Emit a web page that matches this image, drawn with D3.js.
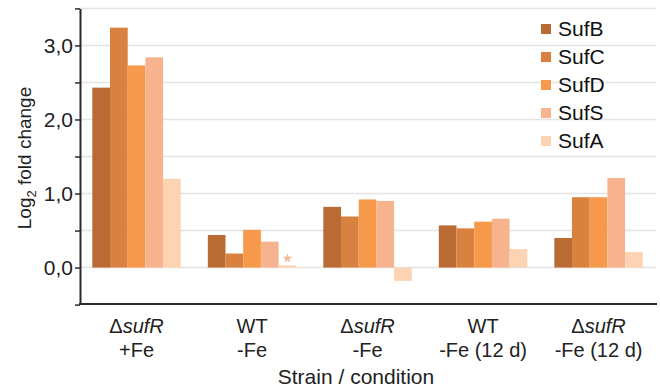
<!DOCTYPE html>
<html>
<head>
<meta charset="utf-8">
<script src="https://cdn.jsdelivr.net/npm/d3@7"></script>
<style>
  body { margin: 0; background: #fff; }
  svg { font-family: "Liberation Sans", Arial, sans-serif; }
</style>
</head>
<body>
<div id="chart"></div>
<script>
// data
const conditions = ["dsufR_Fe", "WT_noFe", "dsufR_noFe", "WT_noFe12", "dsufR_noFe12"];
const genes = ["SufB", "SufC", "SufD", "SufS", "SufA"];
const sufB = [2.43, 0.44, 0.82, 0.57, 0.40];
const sufC = [3.24, 0.19, 0.69, 0.53, 0.95];
const sufD = [2.73, 0.51, 0.92, 0.62, 0.95];
const sufS = [2.84, 0.35, 0.90, 0.66, 1.21];
const sufA = [1.20, 0.03, -0.18, 0.25, 0.21];
const yTicks = [-0.5, 0, 0.5, 1, 1.5, 2, 2.5, 3, 3.5];
const labelLine1 = [
    { mutant: true, text: "sufR" },
    { mutant: false, text: "WT" },
    { mutant: true, text: "sufR" },
    { mutant: false, text: "WT" },
    { mutant: true, text: "sufR" }
];
const labelLine2 = ["+Fe", "-Fe", "-Fe", "-Fe (12 d)", "-Fe (12 d)"];
const colors = ["#b96b33", "#d9823f", "#f6994a", "#f7b28e", "#fcd4b3"];

const series = [sufB, sufC, sufD, sufS, sufA];

const width = 660, height = 388;
const svg = d3.select("#chart").append("svg")
    .attr("width", width)
    .attr("height", height);

// Scales
const x = d3.scaleBand()
    .domain(conditions)
    .range([78.8, 656.3])
    .paddingInner(0.234)
    .paddingOuter(0.117);

const xInner = d3.scaleBand()
    .domain(genes)
    .range([0, x.bandwidth()]);

const y = d3.scaleLinear()
    .domain([-0.5, 3.5])
    .range([304.6, 8.4]);

const color = d3.scaleOrdinal().domain(genes).range(colors);

// gridlines
svg.append("g")
    .selectAll("line")
    .data(yTicks.filter(t => t > -0.5))
    .enter()
    .append("line")
    .attr("x1", 80)
    .attr("x2", 656)
    .attr("y1", d => y(d))
    .attr("y2", d => y(d))
    .attr("stroke", "#e4e4e4")
    .attr("stroke-width", 1.5);

// bars
genes.forEach((g, i) => {
    svg.append("g")
        .selectAll("rect")
        .data(series[i])
        .enter()
        .append("rect")
        .attr("x", (d, j) => x(conditions[j]) + xInner(g))
        .attr("y", d => y(Math.max(0, d)))
        .attr("width", xInner.bandwidth())
        .attr("height", d => Math.abs(y(d) - y(0)))
        .attr("fill", color(g));
});

// star over WT -Fe SufA
const starIdx = 1;
svg.append("path")
    .attr("d", d3.symbol().type(d3.symbolStar).size(30)())
    .attr("transform", `translate(${x(conditions[starIdx]) + xInner("SufA") + xInner.bandwidth() / 2},${y(sufA[starIdx]) - 7})`)
    .attr("fill", "#f6b995");

// y axis
const yAxis = d3.axisLeft(y)
    .tickValues(yTicks)
    .tickSize(5)
    .tickSizeOuter(0)
    .tickFormat(d => Number.isInteger(d) && d >= 0 ? d3.format(".1f")(d).replace(".", ",") : "");

const yg = svg.append("g")
    .attr("transform", "translate(80,0)")
    .call(yAxis);
yg.select(".domain").attr("stroke", "#2a2a2a").attr("stroke-width", 2);
yg.selectAll(".tick line").attr("stroke", "#2a2a2a").attr("stroke-width", 1.5);
yg.selectAll(".tick text")
    .attr("font-size", 21)
    .attr("fill", "#222")
    .attr("x", -7)
    .attr("font-family", "Liberation Sans, Arial, sans-serif");

// x axis line
svg.append("line")
    .attr("x1", 79)
    .attr("x2", 657)
    .attr("y1", 304)
    .attr("y2", 304)
    .attr("stroke", "#2a2a2a")
    .attr("stroke-width", 2);

// x labels
const xl = svg.append("g");
conditions.forEach((c, i) => {
    const cx = x(c) + x.bandwidth() / 2;
    const t1 = xl.append("text")
        .attr("x", cx)
        .attr("y", 333)
        .attr("text-anchor", "middle")
        .attr("font-size", 20)
        .attr("fill", "#222");
    if (labelLine1[i].mutant) {
        t1.append("tspan").text("\u0394");
        t1.append("tspan").attr("font-style", "italic").text(labelLine1[i].text);
    } else {
        t1.text(labelLine1[i].text);
    }
    xl.append("text")
        .attr("x", cx)
        .attr("y", 357)
        .attr("text-anchor", "middle")
        .attr("font-size", 20)
        .attr("fill", "#222")
        .text(labelLine2[i]);
});

// axis titles
svg.append("text")
    .attr("x", 356)
    .attr("y", 384)
    .attr("text-anchor", "middle")
    .attr("font-size", 21)
    .attr("fill", "#222")
    .text("Strain / condition");

const yt = svg.append("text")
    .attr("transform", "translate(31,158) rotate(-90)")
    .attr("text-anchor", "middle")
    .attr("font-size", 19)
    .attr("fill", "#222");
yt.append("tspan").text("Log");
yt.append("tspan").attr("font-size", 13).attr("dy", 5).text("2");
yt.append("tspan").attr("dy", -5).text(" fold change");

// legend
const legend = svg.append("g").attr("transform", "translate(541,29)");
genes.forEach((g, i) => {
    const row = legend.append("g").attr("transform", `translate(0,${i * 28})`);
    row.append("rect")
        .attr("x", 0)
        .attr("y", -5)
        .attr("width", 10)
        .attr("height", 10)
        .attr("fill", color(g));
    row.append("text")
        .attr("x", 17)
        .attr("y", 7)
        .attr("font-size", 21)
        .attr("fill", "#111")
        .text(g);
});
</script>
</body>
</html>
